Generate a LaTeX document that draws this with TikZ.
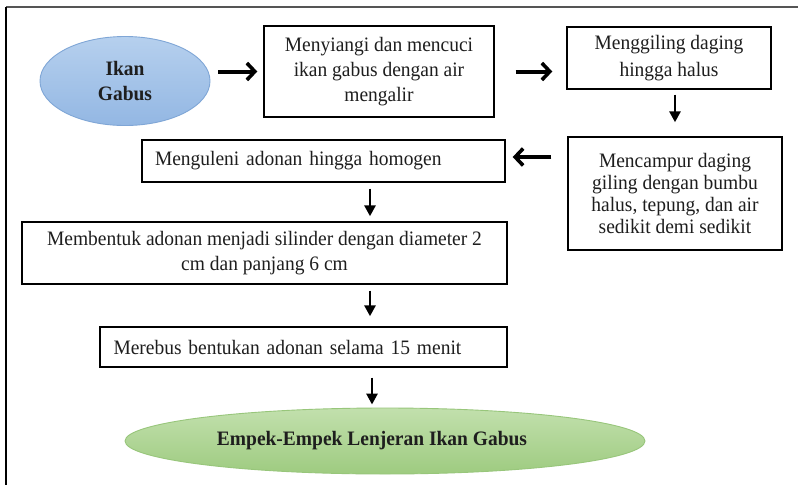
\documentclass[tikz,border=0pt]{standalone}
\usepackage{fontspec}
\setmainfont{Liberation Serif}[FakeStretch=0.95]
\usetikzlibrary{arrows.meta,shapes.geometric}

\definecolor{txt}{HTML}{1E1E1E}
\definecolor{framegray}{HTML}{555555}
\definecolor{bluetop}{HTML}{B6D0EE}
\definecolor{bluebot}{HTML}{93B7E3}
\definecolor{blueline}{HTML}{7FA6D6}
\definecolor{greentop}{HTML}{C2E0AD}
\definecolor{greenbot}{HTML}{9ECB80}
\definecolor{greenline}{HTML}{98C67B}

\begin{document}
\begin{tikzpicture}[x=1pt,y=-1pt,
  stepbox/.style={draw=black, line width=1.4pt, rectangle, inner sep=0pt,
    font=\fontsize{20.5}{25}\selectfont, text=txt},
  startend/.style={ellipse, inner sep=0pt, line width=0.9pt,
    font=\fontsize{20.5}{25}\selectfont\bfseries, text=txt, align=center},
  hflow/.style={-{Straight Barb[length=8pt,width=17pt,line width=3.6pt]}, line width=4pt},
  vflow/.style={-{Triangle[length=11pt,width=11pt]}, line width=2.8pt},
]
\useasboundingbox (0,0) rectangle (798,485);
\fill[white] (0,0) rectangle (798,485);

% page frame: top and left rules only
\draw[framegray, line width=1.4pt] (6,7) -- (798,7);
\draw[black, line width=2pt] (6,7) -- (6,485);

% raw material
\node[startend, minimum width=170, minimum height=89,
      top color=bluetop, bottom color=bluebot, draw=blueline] (fish) at (125,81) {Ikan\\Gabus};

% processing steps
\node[stepbox, minimum width=230, minimum height=91, align=center] (wash) at (379,71.5)
  {Menyiangi dan mencuci\\ikan gabus dengan air\\mengalir};
\node[stepbox, minimum width=204, minimum height=62, align=center,
      font=\fontsize{20.5}{27}\selectfont] (grind) at (669,58)
  {Menggiling daging\\hingga halus};
\node[stepbox, minimum width=214, minimum height=113, align=center,
      font=\fontsize{20.5}{22}\selectfont] (mix) at (675,193.5)
  {Mencampur daging\\giling dengan bumbu\\halus, tepung, dan air\\sedikit demi sedikit};
\node[stepbox, minimum width=363, minimum height=42, text width=337, align=left] (knead) at (323.5,161)
  {Menguleni adonan hingga homogen};
\node[stepbox, minimum width=485, minimum height=62, align=center] (shape) at (264.5,253)
  {Membentuk adonan menjadi silinder dengan diameter 2\\cm dan panjang 6 cm};
\node[stepbox, minimum width=407, minimum height=40, text width=380, align=left] (boil) at (303.5,347)
  {Merebus bentukan adonan selama 15 menit};

% final product
\node[startend, minimum width=520, minimum height=66,
      top color=greentop, bottom color=greenbot, draw=greenline] (product) at (385,441)
  {Empek-Empek Lenjeran Ikan Gabus\hspace{26pt}};

% flow arrows
\coordinate (axis) at (370,0);
\draw[hflow, shorten <=8pt, shorten >=6pt] (fish.east |- wash.west) -- (wash.west);
\draw[hflow, shorten <=21pt, shorten >=14pt] (wash.east) -- (wash.east -| grind.west);
\draw[vflow, shorten <=5pt, shorten >=14pt] (mix.north |- grind.south) -- (mix.north);
\draw[hflow, shorten <=16pt, shorten >=7pt] ([yshift=4pt]knead.east -| mix.west) -- ([yshift=4pt]knead.east);
\draw[vflow, shorten <=6pt, shorten >=5pt] (knead.south -| axis) -- (shape.north -| axis);
\draw[vflow, shorten <=6pt, shorten >=10pt] (shape.south -| axis) -- (boil.north -| axis);
\draw[vflow, shorten <=10pt, shorten >=3pt] ([xshift=2pt]boil.south -| axis) -- ([xshift=2pt]product.north -| axis);
\end{tikzpicture}
\end{document}
